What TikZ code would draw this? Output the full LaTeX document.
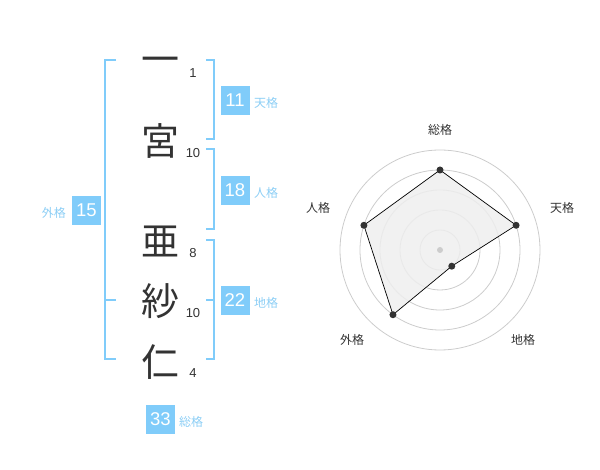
\documentclass[tikz,border=0pt]{standalone}
\usepackage{fontspec}
\setmainfont{Liberation Sans}
\newfontfamily\jp{Noto Sans CJK JP}
\definecolor{sky}{RGB}{128,204,250}
\definecolor{skytext}{RGB}{140,206,245}
\definecolor{ink}{RGB}{51,51,51}
\definecolor{ring}{RGB}{204,204,204}
\definecolor{area}{RGB}{238,238,238}
\tikzset{
  kanji/.style={font=\jp\fontsize{38}{38}\selectfont, text=ink, inner sep=0pt, text height=33.4pt, text depth=4.6pt},
  strokes/.style={font=\fontsize{13}{13}\selectfont, text=ink, inner sep=0pt},
  scorebox/.style={fill=sky, text=white, minimum width=29pt, minimum height=29pt, inner sep=0pt, font=\fontsize{18.5}{18.5}\selectfont},
  kaku/.style={font=\jp\fontsize{12}{12}\selectfont, text=skytext, inner sep=0pt},
  bracket/.style={draw=sky, line width=2pt},
  radarlabel/.style={font=\jp\fontsize{12}{12}\selectfont, text=ink, inner sep=0pt},
  ringline/.style={draw=ring, line width=0.8pt},
  dot/.style={circle, fill=ink, minimum size=7pt, inner sep=0pt}
}
\begin{document}
\begin{tikzpicture}[x=1pt,y=-1pt]
\useasboundingbox (0,0) rectangle (600,470);
% kanji
\node[kanji] (k1) at (160,59) {一};
\node[kanji] (k2) at (160,141) {宮};
\node[kanji] (k3) at (160,241) {亜};
\node[kanji] (k4) at (160,301) {紗};
\node[kanji] (k5) at (160,362) {仁};
% stroke counts
\node[strokes] (s1) at (193,73) {1};
\node[strokes] (s2) at (193,153) {10};
\node[strokes] (s3) at (193,253) {8};
\node[strokes] (s4) at (193,313) {10};
\node[strokes] (s5) at (193,373) {4};
% brackets
\coordinate (ta) at (206,60); \coordinate (tb) at (214,60);
\coordinate (tc) at (214,139); \coordinate (td) at (206,139);
\draw[bracket] (ta) -- (tb) -- (tc) -- (td);
\coordinate (ja) at (206,149); \coordinate (jb) at (214,149);
\coordinate (jc) at (214,229); \coordinate (jd) at (206,229);
\draw[bracket] (ja) -- (jb) -- (jc) -- (jd);
\coordinate (ca) at (206,240); \coordinate (cb) at (214,240);
\coordinate (cc) at (214,359); \coordinate (cd) at (206,359);
\coordinate (cm1) at (206,300); \coordinate (cm2) at (214,300);
\draw[bracket] (ca) -- (cb) -- (cc) -- (cd);
\draw[bracket] (cm1) -- (cm2);
\coordinate (ga) at (116,60); \coordinate (gb) at (105,60);
\coordinate (gc) at (105,359); \coordinate (gd) at (116,359);
\coordinate (gm1) at (105,300); \coordinate (gm2) at (116,300);
\draw[bracket] (ga) -- (gb) -- (gc) -- (gd);
\draw[bracket] (gm1) -- (gm2);
% score boxes
\node[scorebox] (b11) at (235,100.5) {11};
\node[kaku, anchor=west] (l11) at (254,103) {天格};
\node[scorebox] (b18) at (235,190.5) {18};
\node[kaku, anchor=west] (l18) at (254,193) {人格};
\node[scorebox] (b22) at (235,300.5) {22};
\node[kaku, anchor=west] (l22) at (254,303) {地格};
\node[scorebox] (b15) at (86.5,210.5) {15};
\node[kaku, anchor=east] (l15) at (66,213) {外格};
\node[scorebox] (b33) at (160.5,419) {33};
\node[kaku, anchor=west] (l33) at (179,422) {総格};
% radar chart
\coordinate (c) at (440,250);
\foreach \r in {20,40,60,80,100} \draw[ringline] (c) circle (\r pt);
\coordinate (p1) at (440,170);
\coordinate (p2) at (516.08,225.28);
\coordinate (p3) at (451.76,266.18);
\coordinate (p4) at (392.98,314.72);
\coordinate (p5) at (363.92,225.28);
\draw[fill=area, fill opacity=0.85, draw=black, line width=0.7pt] (p1) -- (p2) -- (p3) -- (p4) -- (p5) -- cycle;
\node[circle, fill=ring, minimum size=6pt, inner sep=0pt] (cd0) at (c) {};
\foreach \p in {p1,p2,p3,p4,p5} \node[dot] at (\p) {};
\node[radarlabel] (r1) at (440,130) {総格};
\node[radarlabel] (r2) at (562,208) {天格};
\node[radarlabel] (r3) at (523,340) {地格};
\node[radarlabel] (r4) at (352,340) {外格};
\node[radarlabel] (r5) at (318,208) {人格};
\end{tikzpicture}
\end{document}
